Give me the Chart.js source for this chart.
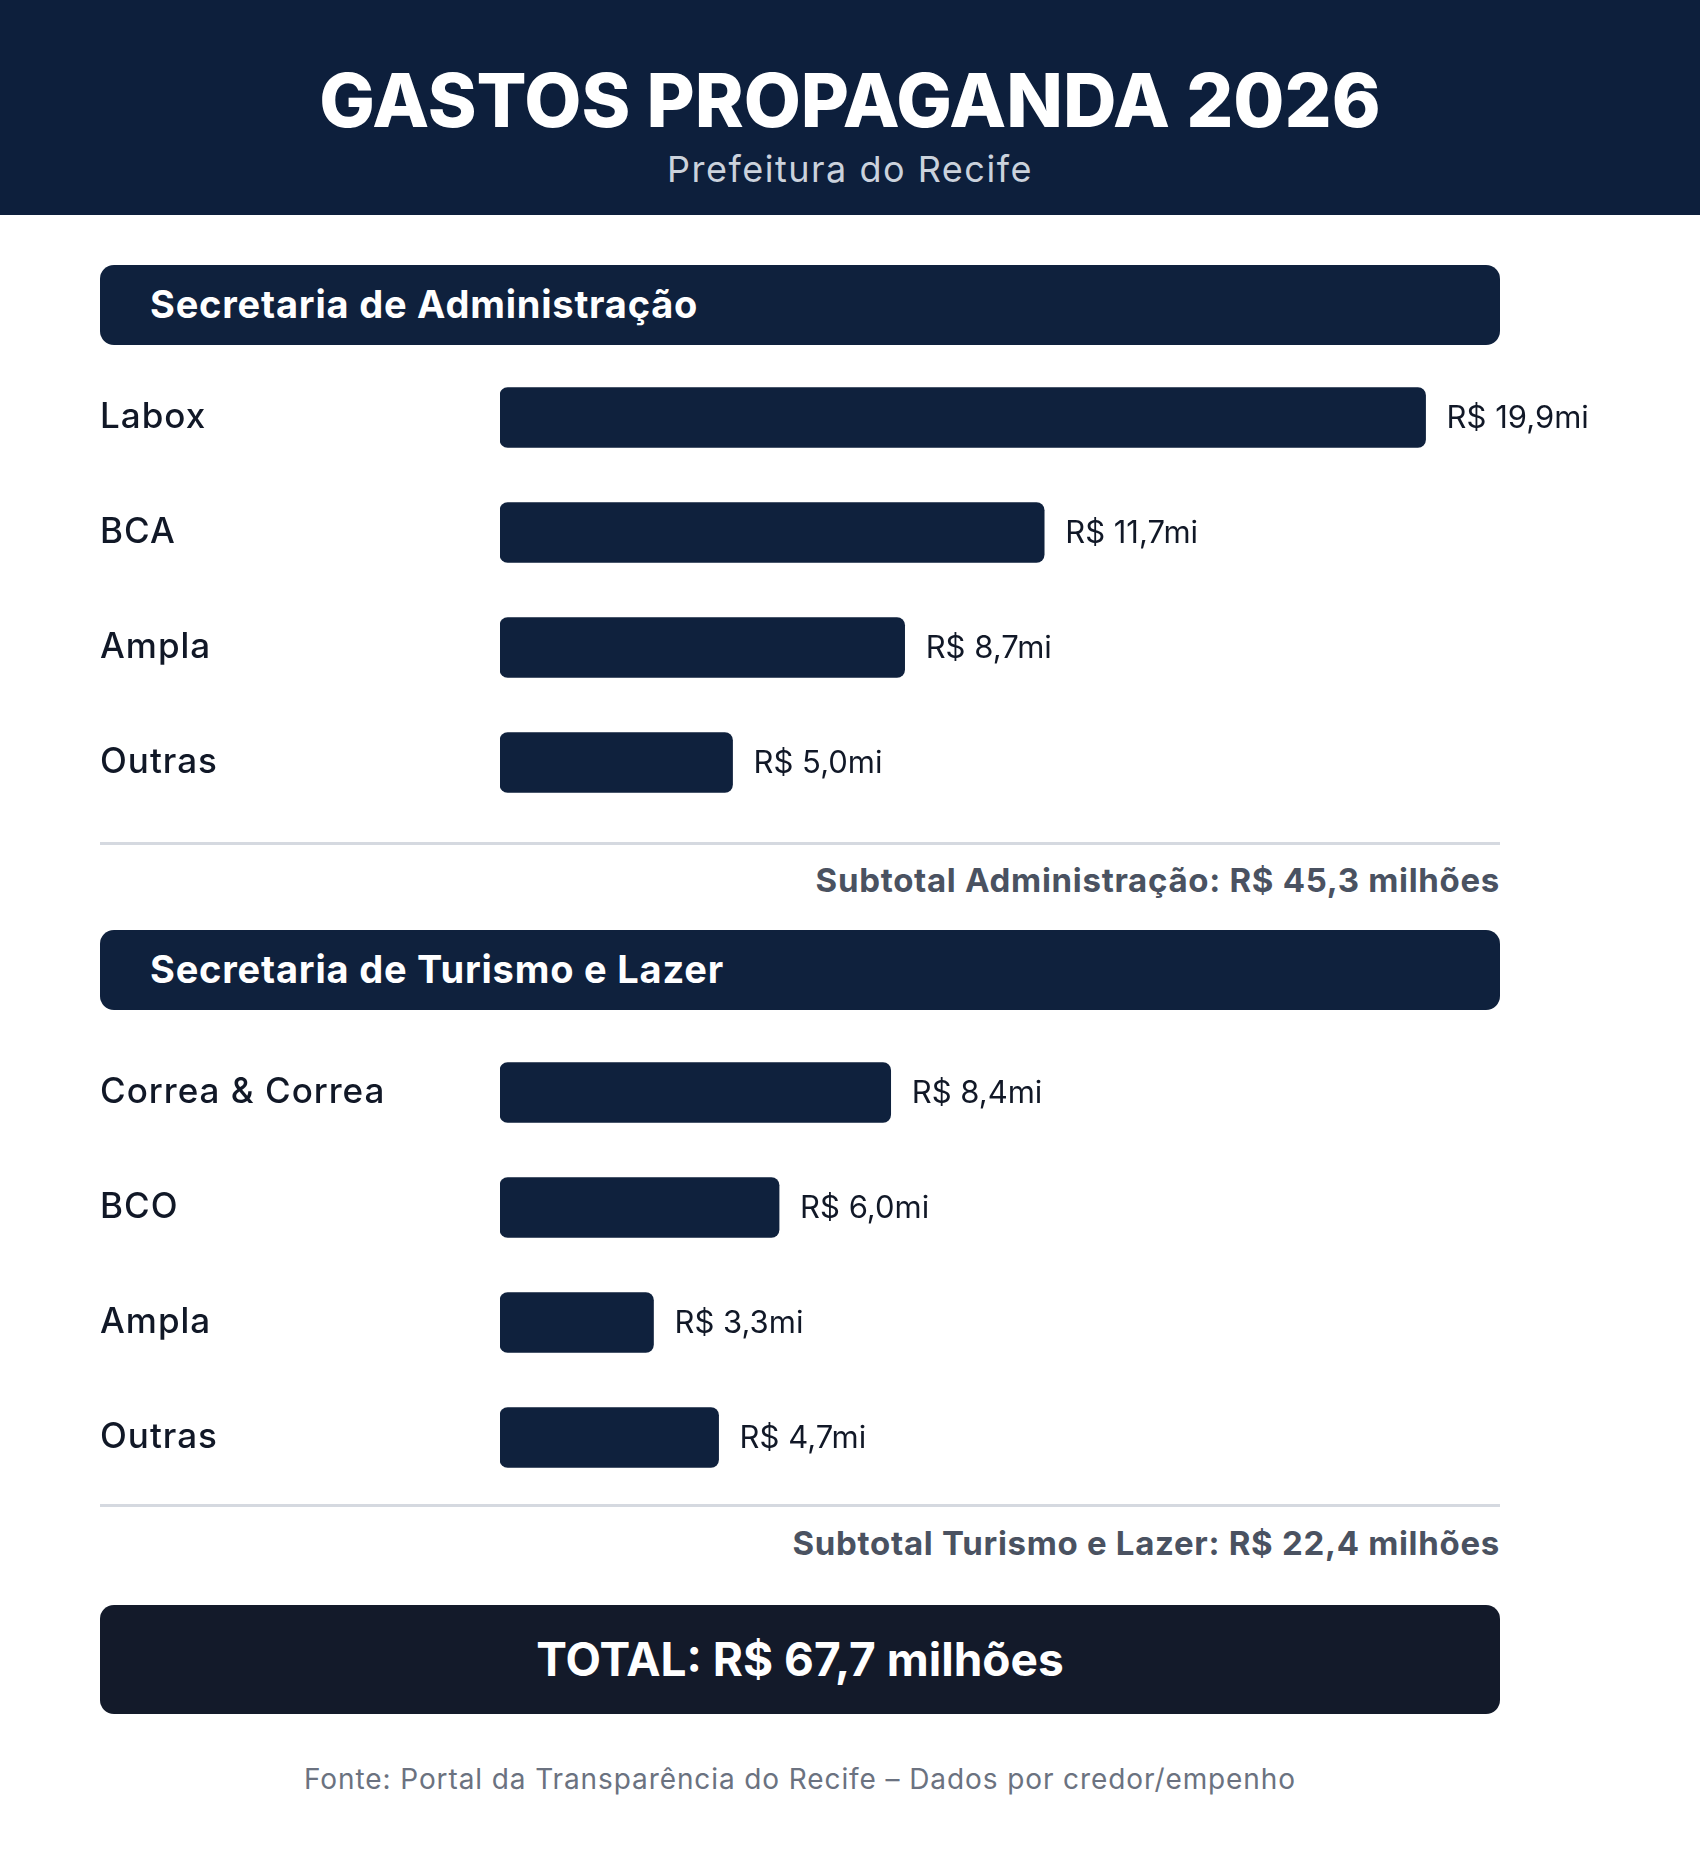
<!DOCTYPE html>
<html>
<head>
<meta charset="utf-8">
<title>Gastos Propaganda 2026</title>
<script src="https://cdn.jsdelivr.net/npm/chart.js@4.4.1/dist/chart.umd.min.js"></script>
<style>
    body { margin: 0; background: #fff; font-family: Inter, "Open Sans", sans-serif; width: 1700px; height: 1855px; position: relative; overflow: hidden; }
    .topo { position: absolute; left: 0; top: 0; width: 1700px; height: 215px; background: #0d1f3c; }
    .titulo { position: absolute; left: 0; width: 1700px; text-align: center; color: #fff; font-weight: 800; font-size: 74px; line-height: 1; top: 63px; }
    .subtitulo { position: absolute; left: 0; width: 1700px; text-align: center; color: #cbd2dc; font-size: 36px; letter-spacing: 1.5px; line-height: 1; top: 151px; }
    .secao { position: absolute; left: 100px; width: 1400px; height: 80px; background: #0f213d; border-radius: 14px; color: #fff; font-weight: 700; font-size: 38px; letter-spacing: 0.8px; line-height: 80px; }
    .secao span { position: absolute; left: 50px; top: -1px; }
    .linha { position: absolute; left: 100px; width: 1400px; height: 3px; background: #d5d9e0; }
    .subtotal { position: absolute; left: 100px; width: 1400px; text-align: right; color: #4a5261; font-weight: 700; font-size: 33px; letter-spacing: 0.7px; line-height: 1; }
    .total { position: absolute; left: 100px; top: 1605px; width: 1400px; height: 109px; background: #131a2a; border-radius: 14px; color: #fff; text-align: center; font-weight: 700; font-size: 46px; line-height: 109px; }
    .fonte { position: absolute; left: 100px; width: 1400px; top: 1765px; text-align: center; color: #6b7280; font-size: 28px; letter-spacing: 0.9px; line-height: 1; }
    .grafico { position: absolute; left: 100px; width: 1600px; height: 460px; }
</style>
</head>
<body>

<div class="topo">
    <div class="titulo">GASTOS PROPAGANDA 2026</div>
    <div class="subtitulo">Prefeitura do Recife</div>
</div>

<div class="secao" style="top:265px"><span>Secretaria de Administração</span></div>
<div class="grafico" style="top:360px"><canvas id="adminChart"></canvas></div>
<div class="linha" style="top:842px"></div>
<div class="subtotal" id="subAdmin" style="top:864px"></div>

<div class="secao" style="top:930px"><span>Secretaria de Turismo e Lazer</span></div>
<div class="grafico" style="top:1035px"><canvas id="turismoChart"></canvas></div>
<div class="linha" style="top:1504px"></div>
<div class="subtotal" id="subTurismo" style="top:1527px"></div>

<div class="total" id="totalGeral"></div>

<div class="fonte">Fonte: Portal da Transparência do Recife – Dados por credor/empenho</div>

<script>
// valores em milhoes de reais
var adminLabels = ['Labox', 'BCA', 'Ampla', 'Outras'];
var adminValues = [19.9, 11.7, 8.7, 5.0];

var turismoLabels = ['Correa & Correa', 'BCO', 'Ampla', 'Outras'];
var turismoValues = [8.4, 6.0, 3.3, 4.7];

var escalaMax = 21.5;

function fmt(v) {
    return v.toFixed(1).replace('.', ',');
}

function soma(arr) {
    var t = 0;
    for (var i = 0; i < arr.length; i++) {
        t += arr[i];
    }
    return Math.round(t * 10) / 10;
}

// escreve o valor ao lado de cada barra
var valorPlugin = {
    id: 'valorPlugin',
    beforeDraw: function (chart) {
        // fonte mais larga nos nomes, como no original
        chart.ctx.letterSpacing = '1px';
    },
    afterDatasetsDraw: function (chart) {
        var ctx = chart.ctx;
        var meta = chart.getDatasetMeta(0);
        var data = chart.data.datasets[0].data;
        ctx.save();
        ctx.letterSpacing = '0px';
        ctx.font = '400 31px Inter, "Open Sans", sans-serif';
        ctx.fillStyle = '#111827';
        ctx.textAlign = 'left';
        ctx.textBaseline = 'middle';
        meta.data.forEach(function (bar, i) {
            ctx.fillText('R$ ' + fmt(data[i]) + 'mi', bar.x + 21, bar.y + 1);
        });
        ctx.restore();
    }
};

function criaGrafico(id, labels, values) {
    var ctx = document.getElementById(id);
    return new Chart(ctx, {
        type: 'bar',
        data: {
            labels: labels,
            datasets: [{
                    "backgroundColor": "#0f213d",
                    "borderRadius": 8,
                    "borderSkipped": false,
                    "barThickness": 60,
                    "data": values
                }]
        },
        options: {
            indexAxis: 'y',
            responsive: true,
            maintainAspectRatio: false,
            animation: false,
            layout: {padding: {left: 0, right: 200, top: 0, bottom: 0}},
            plugins: {
                legend: {display: false},
                tooltip: {enabled: false}
            },
            scales: {
                x: {display: false, min: 0, max: escalaMax},
                y: {
                    grid: {display: false},
                    border: {display: false},
                    afterFit: function (scale) {
                        scale.width = 400;
                        scale.paddingTop = 0;
                        scale.paddingBottom = 0;
                    },
                    ticks: {
                        crossAlign: 'far',
                        padding: 0,
                        color: '#111827',
                        font: {family: 'Inter, "Open Sans", sans-serif', size: 35, weight: '500'}
                    }
                }
            }
        },
        plugins: [valorPlugin]
    });
}

criaGrafico('adminChart', adminLabels, adminValues);
criaGrafico('turismoChart', turismoLabels, turismoValues);

var subAdmin = soma(adminValues);
var subTurismo = soma(turismoValues);
document.getElementById('subAdmin').textContent = 'Subtotal Administração: R$ ' + fmt(subAdmin) + ' milhões';
document.getElementById('subTurismo').textContent = 'Subtotal Turismo e Lazer: R$ ' + fmt(subTurismo) + ' milhões';
document.getElementById('totalGeral').textContent = 'TOTAL: R$ ' + fmt(subAdmin + subTurismo) + ' milhões';
</script>
</body>
</html>
